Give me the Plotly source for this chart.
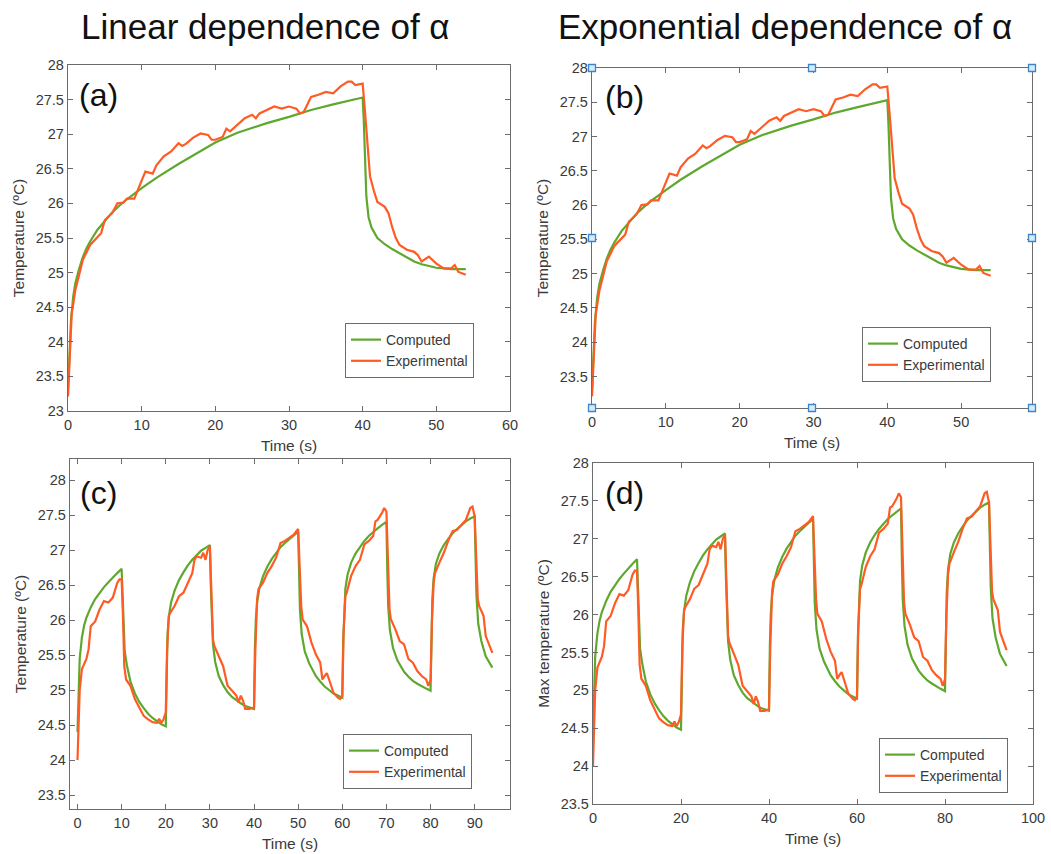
import plotly.graph_objects as go

# ---------------- data ----------------
# single pulse (panels a, b)
t_single_comp = [0, 0.2, 0.4, 0.7, 1, 1.5, 2, 2.5, 3, 4, 5, 6, 7, 8, 10, 12, 15, 18, 20, 23, 25, 27, 30, 33, 36, 40,
                 40.15, 40.3, 40.5, 40.8, 41.2, 42, 43, 44, 45, 46, 47, 48, 50, 52, 54]
T_single_comp = [23.3, 23.9, 24.3, 24.65, 24.85, 25.05, 25.22, 25.35, 25.45, 25.62, 25.75, 25.87, 25.97, 26.06, 26.22,
                 26.37, 26.57, 26.76, 26.88, 27.02, 27.09, 27.16, 27.25, 27.35, 27.43, 27.53,
                 27.2, 26.7, 26.1, 25.8, 25.65, 25.5, 25.41, 25.34, 25.28, 25.21, 25.16, 25.12, 25.07, 25.05, 25.05]

t_single_exp = [0, 0.5, 1, 2, 3, 4, 4.5, 5, 6, 6.7, 7.5, 8, 9, 9.5, 10, 10.5, 11.5, 12, 13, 14,
                15, 15.5, 16, 17, 18, 19, 19.5, 20, 21, 21.5, 22, 23, 24, 25, 25.5, 26, 27, 28, 29, 30,
                31, 31.5, 32, 33, 34, 35, 36, 37, 38, 38.5, 39, 39.5, 40, 40.3, 40.6, 41, 41.5, 42, 43, 43.5,
                44, 44.5, 45, 46, 47, 47.5, 48, 49, 50, 51, 52, 52.5, 53, 54]
T_single_exp = [23.21, 24.4, 24.75, 25.18, 25.4, 25.52, 25.57, 25.76, 25.86, 26.0, 26.01, 26.07, 26.07, 26.2, 26.34,
                26.46, 26.43, 26.55, 26.68, 26.75, 26.87, 26.83, 26.86, 26.95, 27.01, 26.99, 26.92, 26.92, 26.96,
                27.08, 27.04, 27.13, 27.23, 27.28, 27.23, 27.3, 27.35, 27.4, 27.37, 27.4, 27.37, 27.3, 27.32,
                27.54, 27.57, 27.61, 27.59, 27.69, 27.76, 27.76, 27.71, 27.72, 27.73, 27.35, 26.87, 26.39, 26.19,
                26.02, 25.95, 25.86, 25.66, 25.5, 25.4, 25.33, 25.3, 25.25, 25.16, 25.23, 25.13, 25.06, 25.06,
                25.11, 25.01, 24.97]

# cyclic pulses (panels c, d)
t_cyc_comp = [0, 0.2, 0.5, 1, 1.5, 2, 3, 4, 5, 6, 7, 8, 9, 10,
              10.2, 10.4, 10.7, 11.2, 12, 13, 14, 15, 16, 17, 18, 19, 20,
              20.2, 20.4, 20.7, 21.2, 22, 23, 24, 25, 26, 27, 28, 29, 30,
              30.2, 30.4, 30.7, 31.2, 32, 33, 34, 35, 36, 37, 38, 39, 40,
              40.2, 40.4, 40.7, 41.2, 42, 43, 44, 45, 46, 47, 48, 49, 50,
              50.2, 50.4, 50.8, 51.5, 52.5, 54, 55, 56, 57, 58, 59, 60,
              60.2, 60.4, 60.7, 61.2, 62, 63, 64, 65, 66, 67, 68, 69, 70,
              70.2, 70.4, 70.8, 71.5, 72.5, 74, 75, 76, 77, 78, 79, 80,
              80.2, 80.4, 80.7, 81.2, 82, 83, 84, 85, 86, 87, 88, 89, 90,
              90.2, 90.4, 90.8, 91.5, 92.5, 93.5, 94]
T_cyc_comp = [24.4, 25.0, 25.45, 25.75, 25.92, 26.03, 26.18, 26.3, 26.39, 26.47, 26.54, 26.61, 26.67, 26.73,
              26.3, 25.95, 25.55, 25.35, 25.12, 24.95, 24.83, 24.74, 24.66, 24.6, 24.55, 24.51, 24.48,
              25.3, 25.8, 26.05, 26.25, 26.42, 26.57, 26.68, 26.78, 26.86, 26.93, 26.99, 27.03, 27.07,
              26.5, 26.0, 25.65, 25.4, 25.2, 25.07, 24.97, 24.9, 24.85, 24.81, 24.77, 24.75, 24.73,
              25.6, 26.0, 26.25, 26.45, 26.62, 26.76, 26.87, 26.96, 27.04, 27.1, 27.16, 27.21, 27.26,
              26.6, 26.15, 25.8, 25.55, 25.38, 25.2, 25.12, 25.05, 25.0, 24.95, 24.92, 24.89,
              25.7, 26.15, 26.45, 26.65, 26.82, 26.95, 27.05, 27.13, 27.2, 27.26, 27.31, 27.36, 27.4,
              26.7, 26.2, 25.85, 25.6, 25.42, 25.26, 25.19, 25.13, 25.09, 25.05, 25.02, 24.99,
              25.8, 26.3, 26.6, 26.8, 26.95, 27.07, 27.16, 27.24, 27.3, 27.36, 27.41, 27.45, 27.48,
              26.9, 26.35, 25.95, 25.7, 25.48, 25.36, 25.32]

t_cyc_exp = [0, 0.5, 1, 2, 2.5, 3, 4, 5, 6, 7, 8, 9, 9.5, 10, 10.3, 10.6, 11, 12, 13, 14,
             15, 16, 17, 18, 18.5, 19, 19.5, 20, 20.3, 20.7, 21, 22, 23, 24, 25, 26, 26.5, 27, 28, 28.5,
             29, 29.5, 30, 30.3, 30.7, 31, 32, 33, 34, 35, 36, 36.5, 37, 37.5, 38, 39, 40, 40.3, 40.7, 41,
             42, 43, 44, 45, 46, 47, 48, 49, 50, 50.3, 50.7, 51, 52, 53, 54, 55, 55.5, 56, 56.5, 57,
             58, 59, 59.5, 60, 60.3, 60.7, 61, 62, 63, 64, 65, 66, 67, 67.5, 68, 69, 69.5, 70, 70.3, 70.7,
             71, 72, 73, 74, 75, 76, 77, 78, 79, 79.5, 80, 80.3, 80.7, 81, 82, 83, 84, 85, 86, 87,
             88, 89, 89.5, 90, 90.3, 90.7, 91, 92, 92.5, 93, 94]
T_cyc_exp = [24.0, 25.0, 25.3, 25.44, 25.58, 25.91, 25.98, 26.15, 26.27, 26.25, 26.32, 26.53, 26.58, 26.58,
             26.06, 25.34, 25.15, 25.06, 24.87, 24.75, 24.63, 24.58, 24.54, 24.53, 24.59, 24.53, 24.58, 24.68,
             25.58, 26.06, 26.1, 26.2, 26.34, 26.39, 26.53, 26.67, 26.86, 26.91, 26.89, 26.96, 26.86, 27.0,
             27.05, 26.39, 25.72, 25.63, 25.49, 25.34, 25.06, 24.99, 24.92, 24.82, 24.92, 24.85, 24.73, 24.73,
             24.75, 25.58, 26.3, 26.44, 26.53, 26.67, 26.77, 26.89, 27.1, 27.13, 27.17, 27.22, 27.3, 26.77,
             26.2, 26.01, 25.91, 25.68, 25.51, 25.39, 25.15, 25.2, 25.24, 25.15, 24.96, 24.89, 24.87, 24.92,
             25.82, 26.34, 26.39, 26.63, 26.77, 26.86, 27.08, 27.13, 27.2, 27.41, 27.43, 27.53, 27.6, 27.55,
             26.91, 26.15, 26.01, 25.87, 25.7, 25.65, 25.44, 25.39, 25.27, 25.2, 25.15, 25.06, 25.15, 25.96,
             26.53, 26.67, 26.82, 26.96, 27.13, 27.27, 27.29, 27.36, 27.43, 27.6, 27.62, 27.48, 26.91, 26.3,
             26.2, 26.06, 25.77, 25.68, 25.53]

assert len(t_single_comp) == len(T_single_comp)
assert len(t_single_exp) == len(T_single_exp)
assert len(t_cyc_comp) == len(T_cyc_comp)
assert len(t_cyc_exp) == len(T_cyc_exp)

series_names = ["Computed", "Experimental"]
panel_labels = ["(a)", "(b)", "(c)", "(d)"]
column_titles = ["Linear dependence of α", "Exponential dependence of α"]
y_titles = ["Temperature (ºC)", "Temperature (ºC)", "Temperature (ºC)", "Max temperature (ºC)"]
x_title = "Time (s)"

# ---------------- style ----------------
W, H = 1051, 854
GREEN = "#5fa82e"
ORANGE = "#ff5b24"
AX = "#6b6b6b"
TXT = "#3a3a3a"
FONT = "Liberation Sans, Arial, Helvetica, sans-serif"

# pixel boxes (left, right, top, bottom)
boxes = [(68, 510, 65, 411), (592, 1032, 68, 408), (70, 510, 459, 809), (593, 1033, 463, 804)]
xranges = [[0, 60], [0, 59.6], [-1.7, 98], [0, 100]]
yranges = [[23, 28], [23.04, 28], [23.3, 28.3], [23.5, 28]]
xdticks = [10, 10, 10, 20]
legend_pos = [(345, 323), (862, 327), (343, 734), (879, 738)]
label_pos = [(77, 95), (603, 97), (78, 493), (603, 493)]

datasets = [
    (t_single_comp, T_single_comp, t_single_exp, T_single_exp),
    (t_single_comp, T_single_comp, t_single_exp, T_single_exp),
    (t_cyc_comp, T_cyc_comp, t_cyc_exp, T_cyc_exp),
    (t_cyc_comp, T_cyc_comp, t_cyc_exp, T_cyc_exp),
]

fig = go.Figure()
layout = dict(width=W, height=H, margin=dict(l=0, r=0, t=0, b=0, autoexpand=False),
              paper_bgcolor="white", plot_bgcolor="white",
              font=dict(family=FONT, color=TXT, size=14), showlegend=True)
annotations = []
shapes = []

for i in range(4):
    k = "" if i == 0 else str(i + 1)
    xa, ya = "x" + k, "y" + k
    lg = "legend" + k
    l, r, t, b = boxes[i]
    tc, Tc, te, Te = datasets[i]
    fig.add_trace(go.Scatter(x=tc, y=Tc, mode="lines", name=series_names[0],
                             line=dict(color=GREEN, width=2.2), xaxis=xa, yaxis=ya, legend=lg))
    fig.add_trace(go.Scatter(x=te, y=Te, mode="lines", name=series_names[1],
                             line=dict(color=ORANGE, width=2.2), xaxis=xa, yaxis=ya, legend=lg))
    axcommon = dict(showgrid=False, zeroline=False, showline=True, linecolor=AX, linewidth=1.3,
                    mirror="ticks", ticks="inside", ticklen=5, tickcolor=AX, tickwidth=1,
                    automargin=False, tickfont=dict(size=14.5, color=TXT, family=FONT))
    layout["xaxis" + k] = dict(axcommon, domain=[l / W, r / W], range=xranges[i], dtick=xdticks[i],
                               tick0=0, anchor=ya,
                               title=dict(text=x_title, standoff=8, font=dict(size=15.5, color=TXT)))
    layout["yaxis" + k] = dict(axcommon, domain=[(H - b) / H, (H - t) / H], range=yranges[i], dtick=0.5,
                               tick0=0, anchor=xa,
                               title=dict(text=y_titles[i], standoff=7, font=dict(size=15.5, color=TXT)))
    lx, ly = legend_pos[i]
    layout[lg] = dict(x=lx / W, y=(H - ly) / H, xanchor="left", yanchor="top", xref="paper", yref="paper",
                      bgcolor="white", bordercolor=AX, borderwidth=1, font=dict(size=14, color=TXT),
                      tracegroupgap=0, itemwidth=30)
    px, py = label_pos[i]
    annotations.append(dict(text=panel_labels[i], x=px / W, y=(H - py) / H, xref="paper", yref="paper",
                            xanchor="left", yanchor="middle", showarrow=False,
                            font=dict(size=32, color="#111111", family=FONT)))

# column titles
for txt, cx in zip(column_titles, [265, 785]):
    annotations.append(dict(text=txt, x=cx / W, y=(H - 26) / H, xref="paper", yref="paper",
                            xanchor="center", yanchor="middle", showarrow=False,
                            font=dict(size=35, color="#111111", family=FONT)))

# selection handles on panel (b)
for fx in (0, 0.5, 1):
    for fy in (0, 0.5, 1):
        if fx == 0.5 and fy == 0.5:
            continue
        shapes.append(dict(type="rect", xref="x2 domain", yref="y2 domain",
                           xsizemode="pixel", ysizemode="pixel", xanchor=fx, yanchor=fy,
                           x0=-3.5, x1=3.5, y0=-3.5, y1=3.5,
                           line=dict(color="#3a86c8", width=1.3), fillcolor="#d8e9f7", layer="above"))

layout["annotations"] = annotations
layout["shapes"] = shapes
fig.update_layout(**layout)
fig.write_html("out.html", config={"displayModeBar": False},
               post_script="document.body.style.margin='0';document.body.style.overflow='hidden';")
